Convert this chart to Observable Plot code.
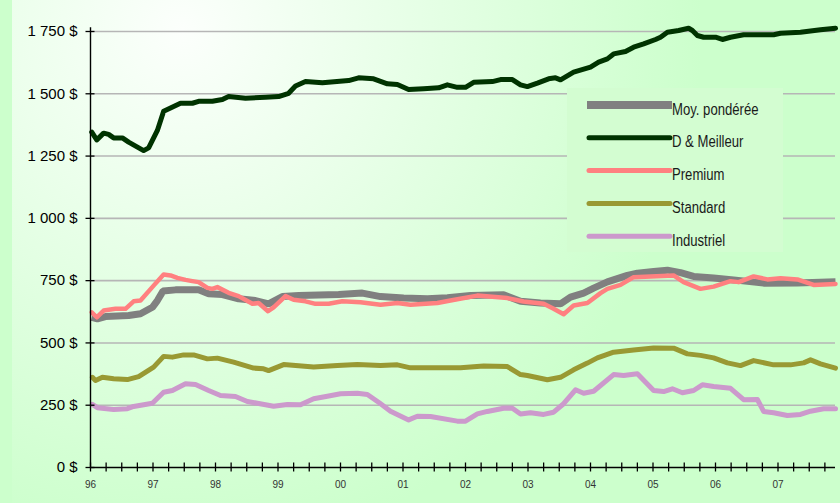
<!DOCTYPE html>
<html><head><meta charset="utf-8">
<script src="https://cdn.jsdelivr.net/npm/d3@7"></script>
<script src="https://cdn.jsdelivr.net/npm/@observablehq/plot@0.6"></script>
<style>
html,body{margin:0;padding:0;background:#ccffcc;width:840px;height:503px;overflow:hidden}
#bg{position:absolute;left:12px;top:0;width:828px;height:503px;background:radial-gradient(circle at 170px 30px,#fcfffc 0px,#ccffcc 520px)}
#chart{position:absolute;left:0;top:0}
#legend{position:absolute;left:0;top:0;pointer-events:none}
</style></head><body>
<div id="bg"></div><div id="chart"></div><svg id="legend" width="840" height="503"></svg>
<script>
// ---- series ----
const seriesNames = ["Moy. pondérée", "D & Meilleur", "Premium", "Standard", "Industriel"];
const seriesColors = ["#808080", "#003300", "#ff8080", "#999933", "#cc99cc"];
const seriesWidths = [7, 5, 4.5, 5, 5];

// ---- Moy. pondérée ----
const moyYears = [1996.02,1996.11,1996.24,1996.61,1996.80,1996.99,1997.07,1997.16,1997.36,1997.73,1997.89,1998.11,1998.37,1998.64,1998.85,1999.07,1999.33,1999.97,2000.35,2000.64,2001.01,2001.39,2001.71,2002.08,2002.61,2002.88,2003.20,2003.52,2003.68,2003.89,2004.05,2004.27,2004.59,2004.75,2005.01,2005.23,2005.44,2005.65,2005.97,2006.29,2006.77,2007.31,2007.92];
const moyValues = [603,597,606,610,617,643,670,708,713,713,697,694,677,670,657,686,690,694,700,686,680,677,681,690,693,667,660,657,684,700,720,745,771,780,787,792,782,767,761,753,740,741,746];

// ---- D & Meilleur ----
const dmYears = [1996.02,1996.10,1996.21,1996.29,1996.37,1996.51,1996.61,1996.85,1996.93,1997.07,1997.17,1997.44,1997.63,1997.73,1997.95,1998.11,1998.21,1998.48,1998.80,1999.01,1999.17,1999.28,1999.44,1999.71,2000.13,2000.29,2000.53,2000.75,2000.91,2001.09,2001.33,2001.57,2001.71,2001.87,2002.00,2002.13,2002.43,2002.56,2002.75,2002.88,2002.99,2003.15,2003.33,2003.44,2003.52,2003.73,2004.00,2004.13,2004.27,2004.37,2004.56,2004.69,2004.85,2005.04,2005.12,2005.23,2005.41,2005.57,2005.63,2005.71,2005.81,2006.00,2006.11,2006.24,2006.45,2006.93,2007.04,2007.36,2007.68,2007.92];
const dmValues = [1346,1315,1342,1337,1323,1323,1306,1272,1283,1353,1430,1462,1462,1470,1470,1477,1489,1482,1486,1489,1502,1531,1549,1544,1553,1564,1560,1540,1537,1517,1520,1524,1536,1526,1526,1546,1549,1557,1557,1536,1529,1543,1560,1564,1556,1587,1607,1627,1640,1660,1670,1687,1700,1718,1727,1747,1754,1763,1754,1734,1727,1727,1718,1727,1737,1737,1743,1747,1757,1763];

// ---- Premium ----
const premYears = [1996.02,1996.10,1996.21,1996.40,1996.56,1996.69,1996.80,1997.01,1997.17,1997.28,1997.39,1997.52,1997.63,1997.73,1997.87,1997.95,1998.03,1998.21,1998.37,1998.59,1998.69,1998.84,1998.93,1999.12,1999.25,1999.44,1999.60,1999.81,2000.03,2000.32,2000.64,2000.91,2001.12,2001.55,2001.76,2002.19,2002.67,2002.93,2003.25,2003.41,2003.57,2003.73,2003.95,2004.16,2004.27,2004.48,2004.69,2005.33,2005.49,2005.76,2005.97,2006.24,2006.37,2006.61,2006.83,2007.04,2007.31,2007.57,2007.92];
const premValues = [623,603,630,637,637,667,670,730,775,771,761,753,748,744,721,717,724,701,688,657,660,627,643,688,673,667,657,657,667,663,653,660,653,660,670,690,680,666,657,637,615,650,660,700,717,733,764,771,744,717,726,748,744,767,755,760,755,733,737];

// ---- Standard ----
const stdYears = [1996.03,1996.08,1996.19,1996.37,1996.59,1996.77,1997.01,1997.17,1997.31,1997.49,1997.65,1997.87,1998.03,1998.29,1998.61,1998.77,1998.85,1999.09,1999.57,1999.95,2000.27,2000.64,2000.91,2001.12,2001.92,2002.29,2002.67,2002.88,2002.99,2003.31,2003.52,2003.73,2003.95,2004.11,2004.37,2004.69,2005.01,2005.33,2005.55,2005.76,2005.97,2006.19,2006.40,2006.61,2006.93,2007.20,2007.41,2007.52,2007.68,2007.92];
const stdValues = [362,349,362,356,353,365,403,446,443,452,452,436,439,423,399,396,389,413,403,409,413,409,412,400,400,407,405,373,369,352,362,392,419,440,463,472,480,479,456,450,440,420,409,429,412,412,420,432,416,399];

// ---- Industriel ----
const indYears = [1996.03,1996.11,1996.37,1996.59,1996.69,1996.99,1997.17,1997.31,1997.52,1997.68,1997.89,1998.08,1998.32,1998.51,1998.67,1998.93,1999.15,1999.36,1999.57,1999.79,2000.00,2000.27,2000.43,2000.62,2000.80,2001.09,2001.23,2001.44,2001.87,2002.00,2002.19,2002.35,2002.61,2002.75,2002.88,2003.04,2003.25,2003.41,2003.57,2003.76,2003.89,2004.05,2004.37,2004.53,2004.75,2005.01,2005.17,2005.31,2005.47,2005.65,2005.79,2005.97,2006.24,2006.45,2006.67,2006.77,2006.93,2007.15,2007.36,2007.52,2007.73,2007.92];
const indValues = [253,240,233,236,245,258,302,309,336,333,309,289,285,265,258,246,253,252,276,286,296,298,293,260,226,191,206,205,186,186,215,225,238,238,215,220,213,222,256,312,298,306,373,369,376,309,305,316,300,309,332,325,318,272,273,225,220,209,213,226,236,236];

// ---- axes ----
const yTicks = [0, 250, 500, 750, 1000, 1250, 1500, 1750];
const yGrid = [250, 500, 750, 1000, 1250, 1500, 1750];
const yearTicks = [1996,1997,1998,1999,2000,2001,2002,2003,2004,2005,2006,2007];
const yearLabels = ["96","97","98","99","00","01","02","03","04","05","06","07"];
const xDomain = [1996, 2007.92];

const allYears = [moyYears, dmYears, premYears, stdYears, indYears];
const allValues = [moyValues, dmValues, premValues, stdValues, indValues];
const rows = [];
seriesNames.forEach((name, s) => allYears[s].forEach((yr, i) => rows.push({series: name, year: yr, value: allValues[s][i]})));

const quarterTicks = d3.range(0, 48).map(q => 1996 + q / 4);
const fmtY = d => d3.format(",")(d).replace(/,/g, " ") + " $";
const sans = "'Liberation Sans', Arial, sans-serif";

const lineMarks = seriesNames.map((name, s) => Plot.line(rows.filter(r => r.series === name), {
  x: "year", y: "value", stroke: seriesColors[s], strokeWidth: seriesWidths[s],
  strokeLinejoin: s === 0 ? "miter" : "round", strokeLinecap: s === 0 ? "butt" : "round"
}));

const chart = Plot.plot({
  width: 840, height: 503,
  marginLeft: 90, marginRight: 5, marginTop: 31, marginBottom: 36,
  style: {background: "transparent", fontFamily: sans, color: "black", overflow: "visible"},
  x: {domain: xDomain, axis: null},
  y: {domain: [0, 1750], axis: null},
  marks: [
    Plot.gridY(yGrid, {stroke: "#b6b6b6", strokeOpacity: 1, strokeWidth: 1.6}),
    ...lineMarks,
    Plot.ruleX([xDomain[0]], {y1: 0, y2: 1765, stroke: "black", strokeWidth: 1.4}),
    Plot.ruleY([0], {stroke: "black", strokeWidth: 1.4}),
    Plot.axisY(yTicks, {label: null, tickSize: 9, dx: 4.5, tickFormat: () => "", stroke: "black", strokeWidth: 1.3}),
    Plot.axisY(yTicks, {label: null, tickSize: 0, tickPadding: 13, tickFormat: fmtY, fontSize: 15, fill: "black"}),
    Plot.axisX(quarterTicks, {label: null, tickSize: 9, dy: -4.5, tickFormat: () => "", stroke: "black", strokeWidth: 1.3}),
    Plot.axisX(yearTicks, {label: null, tickSize: 0, tickPadding: 13, tickFormat: d => yearLabels[yearTicks.indexOf(d)], fontSize: 10, fill: "#333"})
  ]
});
document.getElementById("chart").appendChild(chart);

// ---- legend (inside plot area) ----
const leg = d3.select("#legend");
leg.append("rect").attr("x", 567).attr("y", 88).attr("width", 216).attr("height", 164).attr("fill", "#d3fdd1");
seriesNames.forEach((name, s) => {
  const cy = 105 + s * 32.8;
  if (s === 0) {
    leg.append("rect").attr("x", 587).attr("y", cy - 4).attr("width", 85).attr("height", 8).attr("fill", seriesColors[s]);
  } else {
    leg.append("line").attr("x1", 589).attr("x2", 670).attr("y1", cy).attr("y2", cy)
      .attr("stroke", seriesColors[s]).attr("stroke-width", 5).attr("stroke-linecap", "round");
  }
  leg.append("text").attr("transform", `translate(672,${cy + 9.5}) scale(0.82,1)`).text(name)
    .attr("font-family", sans).attr("font-size", 16).attr("fill", "#1a1a1a");
});
</script>
</body></html>
